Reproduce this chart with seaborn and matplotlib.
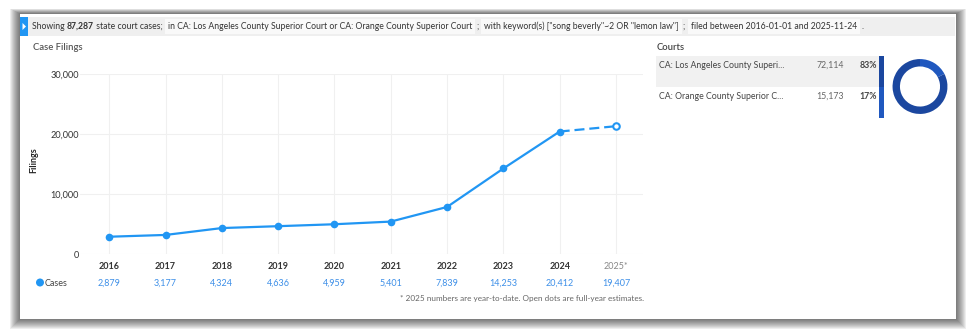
import matplotlib
matplotlib.use("Agg")
import matplotlib.pyplot as plt
import matplotlib.patches as mpatches
from matplotlib.ticker import FuncFormatter
import seaborn as sns
import pandas as pd

# ---------------- data ----------------
years = [2016, 2017, 2018, 2019, 2020, 2021, 2022, 2023, 2024, 2025]
year_labels = ["2016", "2017", "2018", "2019", "2020", "2021", "2022", "2023", "2024", "2025*"]
cases = [2879, 3177, 4324, 4636, 4959, 5401, 7839, 14253, 20412, 19407]
estimate_2025 = 21300
y_ticks = [0, 10000, 20000, 30000]

courts = ["CA: Los Angeles County Superi...", "CA: Orange County Superior C..."]
court_counts = [72114, 15173]
court_pcts = ["83%", "17%"]
court_colors = ["#1b479f", "#2058bf"]

total_cases = "87,287"
chip_texts = [
    "in CA: Los Angeles County Superior Court or CA: Orange County Superior Court",
    'with keyword(s) ["song beverly"~2 OR "lemon law"]',
    "filed between 2016-01-01 and 2025-11-24",
]

# ---------------- style ----------------
sns.set_theme(style="white")
plt.rcParams["font.family"] = ["Lato", "DejaVu Sans"]

W, H = 976, 333
fig = plt.figure(figsize=(W / 100, H / 100), dpi=100)
fig.patch.set_facecolor("white")
renderer = fig.canvas.get_renderer()

def fx(x):
    return x / W

def fy(y):
    return 1 - y / H

BLUE = "#2196f3"
VAL_BLUE = "#3d8fe8"

# ---------------- panel with shadow ----------------
x0, y0, x1, y1 = 20, 14, 956, 319
for i in range(1, 11):
    fig.patches.append(mpatches.Rectangle(
        (fx(x0 - i), fy(y1 + i * 0.95)), (x1 - x0 + 2 * i) / W, (y1 - y0 + i * 1.5) / H,
        transform=fig.transFigure, facecolor="#000000", alpha=0.065, edgecolor="none", zorder=0))
fig.patches.append(mpatches.Rectangle(
    (fx(x0), fy(y1)), (x1 - x0) / W, (y1 - y0) / H,
    transform=fig.transFigure, facecolor="white", edgecolor="none", zorder=1))

# header bar
hb_top, hb_bot = 17, 36
fig.patches.append(mpatches.Rectangle(
    (fx(x0), fy(hb_bot)), (x1 - x0 - 1) / W, (hb_bot - hb_top) / H,
    transform=fig.transFigure, facecolor="#efefef", edgecolor="none", zorder=2))
fig.patches.append(mpatches.Rectangle(
    (fx(x0), fy(hb_bot)), 8 / W, (hb_bot - hb_top) / H,
    transform=fig.transFigure, facecolor=BLUE, edgecolor="none", zorder=3))
fig.patches.append(mpatches.Polygon(
    [(fx(22.5), fy(23)), (fx(22.5), fy(30)), (fx(26), fy(26.5))],
    closed=True, transform=fig.transFigure, facecolor="white", edgecolor="none", zorder=4))

hy = fy(26.5)

# size the header font so the first filter chip spans its reference width
probe = fig.text(0, 0, chip_texts[0], fontsize=6.0)
HFS = 6.0 * (473 - 168) / probe.get_window_extent(renderer=renderer).width
probe.remove()

parts = [("Showing ", "normal"), (total_cases, "bold"), (" state court cases;", "normal")]
xcur = 32
for txt, wt in parts:
    t = fig.text(fx(xcur), hy, txt, fontsize=HFS, fontweight=wt, color="#333333",
                 va="center", ha="left", zorder=5)
    xcur += t.get_window_extent(renderer=renderer).width

chip_x = [168, 484, 691]
seps = [";", ";", "."]
for cx, ct, s in zip(chip_x, chip_texts, seps):
    t = fig.text(fx(cx), hy, ct, fontsize=HFS, color="#333333", va="center", ha="left", zorder=6,
                 bbox=dict(boxstyle="square,pad=0.35", fc="#f9f9f9", ec="none"))
    end = cx + t.get_window_extent(renderer=renderer).width
    fig.text(fx(end + 4), hy, s, fontsize=HFS, color="#333333", va="center", ha="left", zorder=6)

# section titles
fig.text(fx(33), fy(47), "Case Filings", fontsize=6.8, color="#555555", va="center", ha="left",
         fontweight="semibold", zorder=5)
fig.text(fx(657), fy(47), "Courts", fontsize=6.8, color="#444444", va="center", ha="left",
         fontweight="semibold", zorder=5)

# ---------------- main line chart ----------------
ax = fig.add_axes([fx(80), fy(254), (643 - 80) / W, 180 / H], zorder=5)
ax.set_facecolor("none")

df_actual = pd.DataFrame({"year": years[:-1], "cases": cases[:-1]})
df_est = pd.DataFrame({"year": years[-2:], "cases": [cases[-2], estimate_2025]})

sns.lineplot(data=df_est, x="year", y="cases", ax=ax, color=BLUE, lw=1.6, zorder=3)
ax.lines[-1].set_dashes((4.5, 2.2))
sns.lineplot(data=df_actual, x="year", y="cases", ax=ax, color=BLUE, lw=1.6,
             marker="o", markersize=5.5, markeredgewidth=0, zorder=4)
sns.scatterplot(x=[years[-1]], y=[estimate_2025], ax=ax, s=22, facecolor="white",
                edgecolor=BLUE, linewidth=1.5, zorder=5)

ax.set_xlim(years[0] - 0.52, years[-1] + 0.48)
ax.set_ylim(0, 30000)
ax.set_yticks(y_ticks)
ax.yaxis.set_major_formatter(FuncFormatter(lambda v, p: f"{int(v):,}"))
ax.set_xticks(years)
ax.set_xticklabels(year_labels)
for lab in ax.get_xticklabels():
    if lab.get_text().endswith("*"):
        lab.set_color("#888888")
        lab.set_fontweight("normal")
    else:
        lab.set_color("#333333")
        lab.set_fontweight("bold")
ax.tick_params(axis="x", length=0, pad=6, labelsize=6.5)
ax.tick_params(axis="y", length=0, pad=1, labelsize=6.6, labelcolor="#333333")
ax.grid(True, color="#f0f0f0", lw=0.8)
ax.set_axisbelow(True)
for sp in ax.spines.values():
    sp.set_visible(False)
ax.set_xlabel("")
ax.set_ylabel("Filings", fontsize=6.5, fontweight="bold", color="#222222")
ax.yaxis.set_label_coords((38 - 80) / 563, (254 - 160) / 180)

# cases row
row_y = -(283 - 254) / 180
for yr, v in zip(years, cases):
    ax.text(yr, row_y, f"{v:,}", transform=ax.get_xaxis_transform(), ha="center", va="center",
            fontsize=6.5, color=VAL_BLUE, clip_on=False)
fig.add_artist(mpatches.Ellipse((fx(40), fy(282.5)), 8 / W, 8 / H, transform=fig.transFigure,
                                facecolor=BLUE, edgecolor="none", zorder=6))
fig.text(fx(45), fy(283), "Cases", fontsize=6.5, color="#444444", va="center", ha="left", zorder=6)
fig.text(fx(644), fy(299), "* 2025 numbers are year-to-date. Open dots are full-year estimates.",
         fontsize=5.9, color="#666666", va="center", ha="right", zorder=6)

# ---------------- courts table ----------------
row_tops = [56, 87]
row_h = 31
fig.patches.append(mpatches.Rectangle(
    (fx(656), fy(row_tops[0] + row_h)), (879 - 656) / W, row_h / H,
    transform=fig.transFigure, facecolor="#f1f1f1", edgecolor="none", zorder=3))
for i, (name, cnt, pct, col) in enumerate(zip(courts, court_counts, court_pcts, court_colors)):
    ty = fy(row_tops[i] + 9.5)
    fig.text(fx(659), ty, name, fontsize=6.3, color="#444444", va="center", ha="left", zorder=6)
    fig.text(fx(844), ty, f"{cnt:,}", fontsize=6.3, color="#666666", va="center", ha="right", zorder=6)
    fig.text(fx(877), ty, pct, fontsize=6.3, color="#444444", fontweight="bold",
             va="center", ha="right", zorder=6)
    fig.patches.append(mpatches.Rectangle(
        (fx(879), fy(row_tops[i] + row_h)), 5 / W, row_h / H,
        transform=fig.transFigure, facecolor=col, edgecolor="none", zorder=6))

# donut
dax = fig.add_axes([fx(892), fy(114.5), 56 / W, 56 / H], zorder=6)
dax.pie([court_counts[1], court_counts[0]], colors=[court_colors[1], court_colors[0]],
        startangle=90, counterclock=False, radius=1.0,
        wedgeprops=dict(width=0.27, edgecolor="none"))
dax.set_xlim(-1.02, 1.02)
dax.set_ylim(-1.02, 1.02)
dax.set_aspect("equal")
dax.axis("off")

fig.savefig("out.png", dpi=100)
